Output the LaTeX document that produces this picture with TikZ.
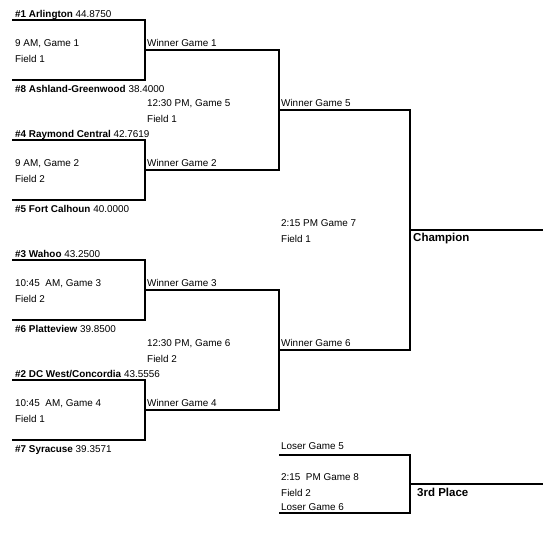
\documentclass[tikz,border=0pt]{standalone}
\usepackage{fontspec}
\setmainfont{Liberation Sans}
\usepackage{tikz}
\usetikzlibrary{positioning}

\begin{document}
\begin{tikzpicture}[
  x=1pt, y=-1pt,
  line/.style={line width=1.1pt},
  txt/.style={anchor=base west, inner sep=0pt, font=\fontsize{9.9}{11}\selectfont},
  sub/.style={txt, below=16pt of #1.base west, anchor=base west},
  place/.style={anchor=base west, inner sep=0pt, font=\fontsize{11.5}{13}\selectfont\bfseries}
]
  \useasboundingbox[fill=white] (0,0) rectangle (554,553);

  % bracket corners
  \coordinate (g1a) at (12,20);  \coordinate (g1b) at (12,80);  \coordinate (w1) at (145,50);
  \coordinate (g2a) at (12,140); \coordinate (g2b) at (12,200); \coordinate (w2) at (145,170);
  \coordinate (g3a) at (12,260); \coordinate (g3b) at (12,320); \coordinate (w3) at (145,290);
  \coordinate (g4a) at (12,380); \coordinate (g4b) at (12,440); \coordinate (w4) at (145,410);
  \coordinate (w5) at (279,110);
  \coordinate (w6) at (279,350);
  \coordinate (w7) at (410,230);
  \coordinate (champ) at (543,230);
  \coordinate (l5) at (279,455);
  \coordinate (l6) at (279,513);
  \coordinate (w8) at (410,484);
  \coordinate (third) at (543,484);

  \draw[line] (g1a) -| (w1) |- (g1b);
  \draw[line] (g2a) -| (w2) |- (g2b);
  \draw[line] (g3a) -| (w3) |- (g3b);
  \draw[line] (g4a) -| (w4) |- (g4b);
  \draw[line] (w1) -| (w5) |- (w2);
  \draw[line] (w3) -| (w6) |- (w4);
  \draw[line] (w5) -| (w7) |- (w6);
  \draw[line] (w7) -- (champ);
  \draw[line] (l5) -| (w8) |- (l6);
  \draw[line] (w8) -- (third);

  % first round
  \node[txt] (team1) at (15,17.5) {\textbf{\#1 Arlington} 44.8750};
  \node[txt] (time1) at (15,46.5) {9 AM, Game 1};
  \node[sub=time1] (field1) {Field 1};
  \node[txt] (team8) at (15,92.5) {\textbf{\#8 Ashland-Greenwood} 38.4000};

  \node[txt] (team4) at (15,137.5) {\textbf{\#4 Raymond Central} 42.7619};
  \node[txt] (time2) at (15,166.5) {9 AM, Game 2};
  \node[sub=time2] (field2) {Field 2};
  \node[txt] (team5) at (15,212.5) {\textbf{\#5 Fort Calhoun} 40.0000};

  \node[txt] (team3) at (15,257.5) {\textbf{\#3 Wahoo} 43.2500};
  \node[txt] (time3) at (15,286.5) {10:45\ \ AM, Game 3};
  \node[sub=time3] (field3) {Field 2};
  \node[txt] (team6) at (15,332.5) {\textbf{\#6 Platteview} 39.8500};

  \node[txt] (team2) at (15,377.5) {\textbf{\#2 DC West/Concordia} 43.5556};
  \node[txt] (time4) at (15,406.5) {10:45\ \ AM, Game 4};
  \node[sub=time4] (field4) {Field 1};
  \node[txt] (team7) at (15,452.5) {\textbf{\#7 Syracuse} 39.3571};

  % second round
  \node[txt] (win1) at (147,46.5) {Winner Game 1};
  \node[txt] (win2) at (147,166.5) {Winner Game 2};
  \node[txt] (win3) at (147,286.5) {Winner Game 3};
  \node[txt] (win4) at (147,406.5) {Winner Game 4};
  \node[txt] (time5) at (147,106.5) {12:30 PM, Game 5};
  \node[sub=time5] (field5) {Field 1};
  \node[txt] (time6) at (147,346.5) {12:30 PM, Game 6};
  \node[sub=time6] (field6) {Field 2};

  % finals
  \node[txt] (win5) at (281,106.5) {Winner Game 5};
  \node[txt] (win6) at (281,346.5) {Winner Game 6};
  \node[txt] (time7) at (281,226.5) {2:15 PM Game 7};
  \node[sub=time7] (field7) {Field 1};
  \node[place] (champion) at (413,241.5) {Champion};

  \node[txt] (lose5) at (281,449.5) {Loser Game 5};
  \node[txt] (time8) at (281,480.5) {2:15\ \ PM Game 8};
  \node[sub=time8] (field8) {Field 2};
  \node[txt] (lose6) at (281,510) {Loser Game 6};
  \node[place] (thirdplace) at (417,496) {3rd Place};
\end{tikzpicture}
\end{document}
